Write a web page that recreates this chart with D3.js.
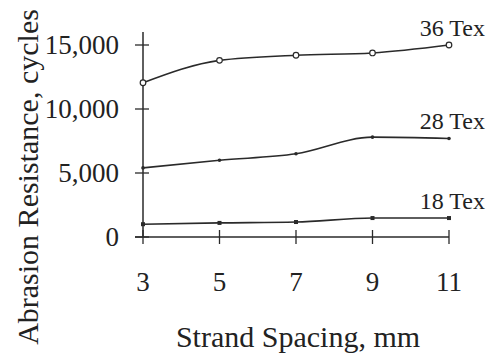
<!DOCTYPE html>
<html>
<head>
<meta charset="utf-8">
<script src="https://cdn.jsdelivr.net/npm/d3@7"></script>
<style>
  body { margin: 0; background: #fff; }
  text { font-family: "Liberation Serif", "DejaVu Serif", serif; fill: #222; }
</style>
</head>
<body>
<script>
// data
const spacing = [3, 5, 7, 9, 11];
const tex36 = [12050, 13800, 14200, 14380, 15000];
const tex28 = [5400, 6000, 6500, 7800, 7700];
const tex18 = [1000, 1100, 1170, 1480, 1480];
const yTicks = [0, 5000, 10000, 15000];
const seriesNames = ['36 Tex', '28 Tex', '18 Tex'];

const width = 490, height = 355;
const svg = d3.select('body').append('svg')
  .attr('width', width)
  .attr('height', height);

const x = d3.scaleLinear().domain([3, 11]).range([143, 449]);
const y = d3.scaleLinear().domain([0, 15000]).range([237, 45]);

const ink = '#2a2a2a';

// y axis line
svg.append('line')
  .attr('x1', x(3)).attr('x2', x(3))
  .attr('y1', y(0)).attr('y2', 32)
  .attr('stroke', ink).attr('stroke-width', 1.5);

// x axis line
svg.append('line')
  .attr('x1', x(3) - 8).attr('x2', x(11))
  .attr('y1', y(0)).attr('y2', y(0))
  .attr('stroke', ink).attr('stroke-width', 1.5);

// y ticks
svg.selectAll('.ytick')
  .data(yTicks)
  .enter()
  .append('line')
  .attr('x1', x(3) - 8).attr('x2', x(3) + 6)
  .attr('y1', d => y(d)).attr('y2', d => y(d))
  .attr('stroke', ink).attr('stroke-width', 1.3);

svg.selectAll('.ylab')
  .data(yTicks)
  .enter()
  .append('text')
  .attr('x', 119)
  .attr('y', d => y(d) + 9)
  .attr('text-anchor', 'end')
  .style('font-size', '27px')
  .text(d => d3.format(',')(d));

// x ticks
svg.selectAll('.xtick')
  .data(spacing)
  .enter()
  .append('line')
  .attr('x1', d => x(d)).attr('x2', d => x(d))
  .attr('y1', y(0) - 7).attr('y2', y(0) + 7)
  .attr('stroke', ink).attr('stroke-width', 1.3);

svg.selectAll('.xlab')
  .data(spacing)
  .enter()
  .append('text')
  .attr('x', d => x(d))
  .attr('y', 291)
  .attr('text-anchor', 'middle')
  .style('font-size', '27px')
  .text(d => d);

// axis titles
svg.append('text')
  .attr('x', 298).attr('y', 347)
  .attr('text-anchor', 'middle')
  .style('font-size', '30px')
  .text('Strand Spacing, mm');

svg.append('text')
  .attr('transform', 'translate(38,177) rotate(-90)')
  .attr('text-anchor', 'middle')
  .style('font-size', '30px')
  .text('Abrasion Resistance, cycles');

// series
const line = d3.line()
  .x((d, i) => x(spacing[i]))
  .y(d => y(d))
  .curve(d3.curveMonotoneX);

const series = [tex36, tex28, tex18];

svg.selectAll('.series')
  .data(series)
  .enter()
  .append('path')
  .attr('d', d => line(d))
  .attr('fill', 'none')
  .attr('stroke', ink)
  .attr('stroke-width', 1.6);

// markers: open circles for 36 Tex
svg.selectAll('.m36')
  .data(tex36)
  .enter()
  .append('circle')
  .attr('cx', (d, i) => x(spacing[i]))
  .attr('cy', d => y(d))
  .attr('r', 2.8)
  .attr('fill', '#fff')
  .attr('stroke', ink)
  .attr('stroke-width', 1.2);

// small dots for 28 Tex
svg.selectAll('.m28')
  .data(tex28)
  .enter()
  .append('circle')
  .attr('cx', (d, i) => x(spacing[i]))
  .attr('cy', d => y(d))
  .attr('r', 1.8)
  .attr('fill', ink);

// small squares for 18 Tex
svg.selectAll('.m18')
  .data(tex18)
  .enter()
  .append('rect')
  .attr('x', (d, i) => x(spacing[i]) - 2)
  .attr('y', d => y(d) - 2)
  .attr('width', 4)
  .attr('height', 4)
  .attr('fill', ink);

// series labels
const labelY = [tex36[4], tex28[4], tex18[4]];
svg.selectAll('.slab')
  .data(seriesNames)
  .enter()
  .append('text')
  .attr('x', 485)
  .attr('y', (d, i) => y(labelY[i]) - 9)
  .attr('text-anchor', 'end')
  .style('font-size', '24px')
  .text(d => d);
</script>
</body>
</html>
